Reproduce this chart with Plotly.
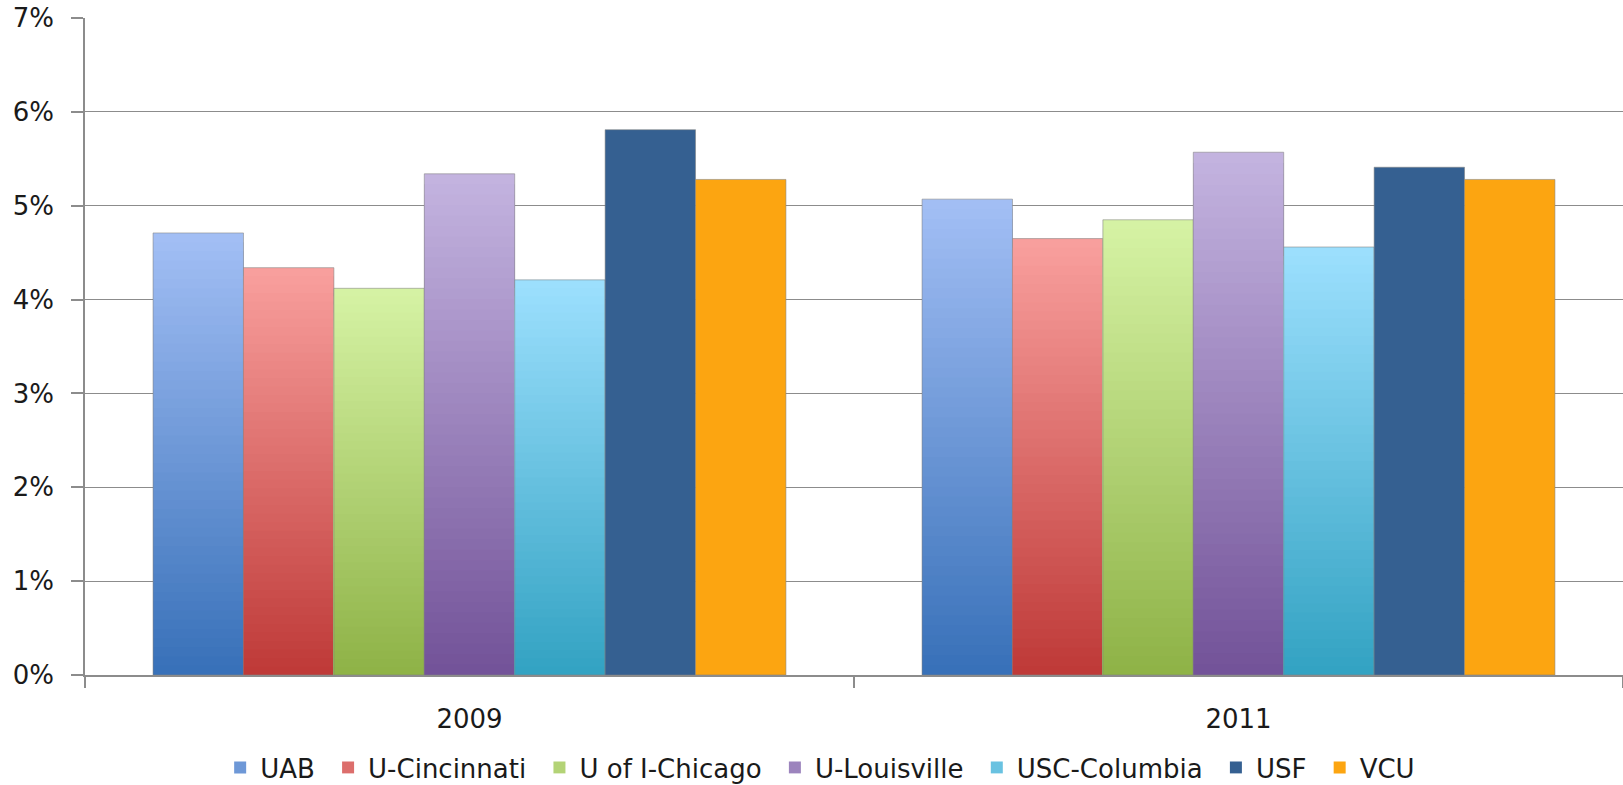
import plotly.graph_objects as go

years = ["2009", "2011"]
schools = ["UAB", "U-Cincinnati", "U of I-Chicago", "U-Louisville", "USC-Columbia", "USF", "VCU"]
uab = [4.71, 5.07]
u_cincinnati = [4.34, 4.65]
u_of_i_chicago = [4.12, 4.85]
u_louisville = [5.34, 5.57]
usc_columbia = [4.21, 4.56]
usf = [5.81, 5.41]
vcu = [5.28, 5.28]
values = [uab, u_cincinnati, u_of_i_chicago, u_louisville, usc_columbia, usf, vcu]

# gradient colours: (top, bottom)
top_colors = [(163, 191, 245), (249, 160, 158), (214, 243, 165), (196, 180, 224),
              (157, 224, 254), (53, 96, 145), (252, 165, 17)]
bottom_colors = [(55, 112, 184), (190, 57, 55), (142, 178, 70), (114, 82, 152),
                 (50, 162, 194), (53, 96, 145), (252, 165, 17)]

N = 48
fig = go.Figure()
for s, name in enumerate(schools):
    vals = [v / 100 for v in values[s]]
    top, bot = top_colors[s], bottom_colors[s]
    steps = N if top != bot else 1
    legend_name = name + ("\u00a0" if s < len(schools) - 1 else "")
    # overlapping bars from the tallest (top colour) to the shortest (bottom colour)
    for k in range(steps - 1, -1, -1):
        t = (k + 0.5) / steps if steps > 1 else 1
        c = tuple(round(bot[i] + (top[i] - bot[i]) * t) for i in range(3))
        fig.add_trace(go.Bar(
            x=years,
            y=[v * (k + 1) / steps for v in vals],
            offsetgroup=name,
            legendgroup=name,
            name=legend_name,
            showlegend=(k == steps // 2),
            marker=dict(color="rgb(%d,%d,%d)" % c, line=dict(width=0)),
            hoverinfo="skip",
        ))
    fig.add_trace(go.Bar(
        x=years, y=vals, offsetgroup=name, legendgroup=name, name=name,
        showlegend=False,
        marker=dict(color="rgba(0,0,0,0)", line=dict(color="rgba(130,130,130,0.55)", width=1)),
    ))

fig.update_layout(
    width=1623, height=785,
    margin=dict(l=85, r=0, t=18, b=110, autoexpand=False),
    paper_bgcolor="white", plot_bgcolor="white",
    barmode="group", bargap=0.177, bargroupgap=0,
    font=dict(family="DejaVu Sans", size=26, color="#1a1a1a"),
    showlegend=True,
    legend=dict(orientation="h", x=0.478, xanchor="center", y=-0.105, yanchor="top",
                font=dict(size=26, family="DejaVu Sans", color="#1a1a1a"),
                traceorder="normal"),
    xaxis=dict(type="category", tickson="boundaries", ticks="outside", ticklen=11,
               tickcolor="#8c8c8c", tickwidth=1.5, showline=True, linecolor="#8c8c8c",
               linewidth=1.5, showgrid=False, ticklabelstandoff=20,
               tickfont=dict(size=26)),
    yaxis=dict(range=[0, 0.07], tickvals=[0, 0.01, 0.02, 0.03, 0.04, 0.05, 0.06, 0.07],
               tickformat=".0%", ticks="outside", ticklen=12, tickcolor="#8c8c8c",
               tickwidth=1.5, showline=True, linecolor="#8c8c8c", linewidth=1.5,
               showgrid=True, gridcolor="#8c8c8c", gridwidth=1.3, zeroline=False,
               ticklabelstandoff=12, ticklabeloverflow="allow",
               tickfont=dict(size=26)),
)

fig.write_html("out.html", config={"displayModeBar": False},
               post_script="document.body.style.margin='0px';")
